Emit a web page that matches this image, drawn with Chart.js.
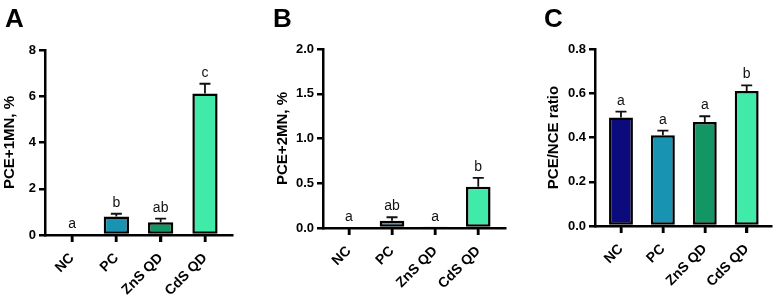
<!DOCTYPE html>
<html>
<head>
<meta charset="utf-8">
<script src="https://cdn.jsdelivr.net/npm/chart.js@4.4.1/dist/chart.umd.min.js"></script>
<style>
    body { margin: 0; background: #fff; width: 779px; height: 297px; overflow: hidden; position: relative; }
    canvas { position: absolute; top: 0; }
</style>
</head>
<body>
<canvas id="panelA" width="250" height="297" style="left:0px"></canvas>
<canvas id="panelB" width="255" height="297" style="left:262px"></canvas>
<canvas id="panelC" width="244" height="297" style="left:535px"></canvas>
<script>
const categories = ['NC', 'PC', 'ZnS QD', 'CdS QD'];
const barColors = ['#0b0b7d', '#1893b1', '#129663', '#40eba9'];

// A: PCE+1MN, %
const mn1Mean = [0, 0.80, 0.55, 6.12];
const mn1Err = [0, 0.12, 0.16, 0.42];
const mn1Letters = ['a', 'b', 'ab', 'c'];

// B: PCE+2MN, %
const mn2Mean = [0, 0.08, 0.005, 0.46];
const mn2Err = [0, 0.04, 0, 0.10];
const mn2Letters = ['a', 'ab', 'a', 'b'];

// C: PCE/NCE ratio
const ratioMean = [0.49, 0.41, 0.47, 0.61];
const ratioErr = [0.027, 0.021, 0.026, 0.026];
const ratioLetters = ['a', 'a', 'a', 'b'];

const fontFam = '"Liberation Sans", Arial, sans-serif';
Chart.defaults.color = '#000';
Chart.defaults.font.family = fontFam;

// error bars (upper only), significance letters, x tick marks and the panel letter
const errorBarPlugin = {
    id: 'errorBars',
    afterDraw(chart, args, o) {
        const ctx = chart.ctx;
        const meta = chart.getDatasetMeta(0);
        const x = chart.scales.x;
        const y = chart.scales.y;
        const base = chart.chartArea.bottom;
        ctx.save();
        ctx.strokeStyle = '#111';
        ctx.fillStyle = '#111';
        ctx.lineWidth = 1.8;
        ctx.font = '14px ' + fontFam;
        ctx.textAlign = 'center';
        o.means.forEach((m, i) => {
            const px = meta.data[i].x;
            const yBar = y.getPixelForValue(m);
            const yTop = y.getPixelForValue(m + o.errors[i]);
            if (o.errors[i] > 0) {
                ctx.beginPath();
                ctx.moveTo(px, yBar);
                ctx.lineTo(px, yTop);
                ctx.moveTo(px - 5.5, yTop);
                ctx.lineTo(px + 5.5, yTop);
                ctx.stroke();
            }
            ctx.fillText(o.letters[i], px, yTop - 7);
        });
        // tick marks under the x axis
        ctx.strokeStyle = '#000';
        ctx.lineWidth = 2.5;
        categories.forEach((c, i) => {
            const tx = Math.round(x.getPixelForValue(i));
            ctx.beginPath();
            ctx.moveTo(tx, base);
            ctx.lineTo(tx, base + 7);
            ctx.stroke();
        });
        ctx.fillStyle = '#000';
        ctx.font = 'bold 26px ' + fontFam;
        ctx.textAlign = 'left';
        ctx.fillText(o.panel, o.panelX, 27);
        ctx.restore();
    }
};

function makePanel(id, p) {
    const ctx = document.getElementById(id).getContext('2d');
    return new Chart(ctx, {
        type: 'bar',
        data: {
            datasets: [{
                data: p.means.map((v, i) => ({ x: i, y: v })),
                backgroundColor: barColors,
                borderColor: '#000',
                borderWidth: 2.5,
                borderSkipped: false,
                categoryPercentage: 1,
                barPercentage: 0.57
            }]
        },
        options: {
            responsive: false,
            devicePixelRatio: 1,
            animation: false,
            layout: { padding: { top: p.top, right: p.right, left: 0, bottom: 0 } },
            plugins: {
                legend: { display: false },
                tooltip: { enabled: false },
                errorBars: {
                    means: p.means, errors: p.errors, letters: p.letters,
                    panel: p.panel, panelX: p.panelX
                }
            },
            scales: {
                x: {
                    type: 'linear',
                    offset: false,
                    min: p.xMin,
                    max: p.xMax,
                    afterFit: s => { s.height = 297 - p.bottom; },
                    grid: { display: true, offset: false, drawOnChartArea: false, drawTicks: true, tickLength: 7, color: '#000', lineWidth: 2.5 },
                    border: { display: true, color: '#000', width: 2.5 },
                    ticks: {
                        stepSize: 1,
                        includeBounds: false,
                        autoSkip: false,
                        maxRotation: 45,
                        minRotation: 45,
                        padding: 8,
                        font: { size: 14, weight: 'bold' },
                        callback: v => Number.isInteger(v) ? categories[v] : ''
                    }
                },
                y: {
                    min: 0,
                    max: p.yMax,
                    afterFit: s => { s.width = p.axisX; },
                    grid: { display: true, drawOnChartArea: false, drawTicks: true, tickLength: 6, color: '#000', lineWidth: 2.5 },
                    border: { display: true, color: '#000', width: 2.5 },
                    ticks: {
                        stepSize: p.yStep,
                        padding: 3,
                        font: { size: 13, weight: 'bold' },
                        callback: v => v.toFixed(p.decimals)
                    },
                    title: {
                        display: true,
                        text: p.title,
                        font: { size: 15, weight: 'bold' },
                        padding: { top: p.titlePad, bottom: 0 }
                    }
                }
            }
        },
        plugins: [errorBarPlugin]
    });
}

makePanel('panelA', {
    means: mn1Mean, errors: mn1Err, letters: mn1Letters,
    title: 'PCE+1MN, %', panel: 'A', panelX: 5,
    yMax: 8, yStep: 2, decimals: 0,
    axisX: 45, top: 50, bottom: 235, right: 18, titlePad: 1,
    xMin: -0.61, xMax: 3.61
});

makePanel('panelB', {
    means: mn2Mean, errors: mn2Err, letters: mn2Letters,
    title: 'PCE+2MN, %', panel: 'B', panelX: 11,
    yMax: 2, yStep: 0.5, decimals: 1,
    axisX: 61, top: 49, bottom: 228, right: 12, titlePad: 12,
    xMin: -0.6, xMax: 3.62
});

makePanel('panelC', {
    means: ratioMean, errors: ratioErr, letters: ratioLetters,
    title: 'PCE/NCE ratio', panel: 'C', panelX: 9,
    yMax: 0.8, yStep: 0.2, decimals: 1,
    axisX: 60, top: 49, bottom: 226, right: 8, titlePad: 10,
    xMin: -0.62, xMax: 3.58
});
</script>
</body>
</html>
